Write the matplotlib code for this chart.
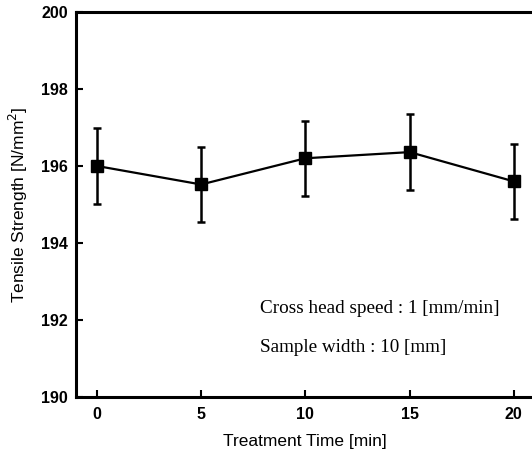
import matplotlib
matplotlib.use('Agg')
import matplotlib.pyplot as plt

# treatment time [min] and tensile strength [N/mm2]
times = [0, 5, 10, 15, 20]
strength = [196.0, 195.52, 196.2, 196.36, 195.6]
err = [0.98, 0.98, 0.98, 0.98, 0.98]

xticks = [0, 5, 10, 15, 20]
yticks = [190, 192, 194, 196, 198, 200]

fig = plt.figure(figsize=(5.32, 4.57), dpi=100)
ax = fig.add_axes([0.143, 0.131, 0.862, 0.843])

ax.errorbar(times, strength, yerr=err, color='black', linewidth=1.6,
            elinewidth=1.8, capsize=3, capthick=1.8,
            marker='s', markersize=8, markerfacecolor='black')

ax.set_xlim(-1, 21)
ax.set_ylim(190, 200)
ax.set_xticks(xticks)
ax.set_yticks(yticks)
ax.tick_params(direction='in', length=5, width=1.5, labelsize=11.5)
ax.tick_params(axis='x', pad=7)
ax.tick_params(axis='y', pad=6)
for lab in ax.get_xticklabels() + ax.get_yticklabels():
    lab.set_fontweight('bold')
    lab.set_family('Liberation Sans')

ax.spines['right'].set_visible(False)
for s in ['left', 'bottom', 'top']:
    ax.spines[s].set_linewidth(2.2)

ax.set_xlabel('Treatment Time [min]', fontsize=12.5, family='Liberation Sans', labelpad=9)
ax.set_ylabel('Tensile Strength [N/mm$^2$]', fontsize=12.5, family='Liberation Sans', labelpad=8)

ax.text(7.8, 192.3, 'Cross head speed : 1 [mm/min]', fontsize=13.8,
        family='Liberation Serif', va='center')
ax.text(7.8, 191.3, 'Sample width : 10 [mm]', fontsize=13.8,
        family='Liberation Serif', va='center')

fig.savefig('out.png', dpi=100)
